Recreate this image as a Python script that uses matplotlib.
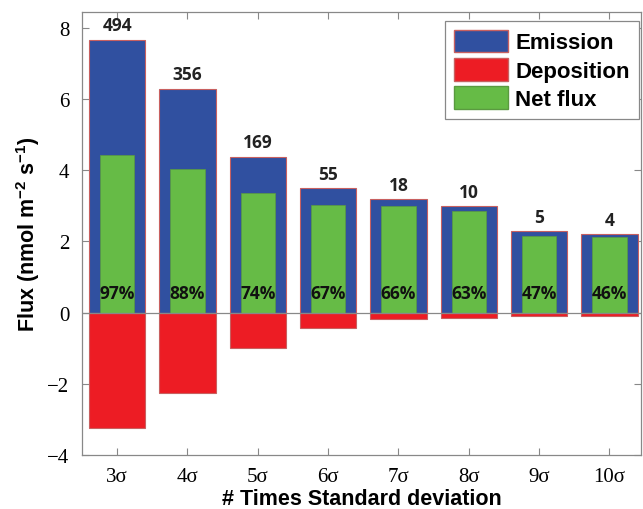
import numpy as np
import matplotlib.pyplot as plt
from matplotlib.patches import Patch

plt.rcParams['mathtext.fontset'] = 'custom'
plt.rcParams['mathtext.rm'] = 'Liberation Sans:bold'
plt.rcParams['mathtext.bf'] = 'Liberation Sans:bold'
plt.rcParams['mathtext.default'] = 'bf'

# flux partitioning vs detection threshold
thresholds = ['3σ', '4σ', '5σ', '6σ', '7σ', '8σ', '9σ', '10σ']
emission = [7.66, 6.28, 4.37, 3.49, 3.18, 2.99, 2.28, 2.20]
deposition = [-3.24, -2.27, -0.99, -0.43, -0.17, -0.14, -0.11, -0.10]
net_flux = [4.42, 4.02, 3.36, 3.03, 2.99, 2.85, 2.14, 2.11]
n_events = [494, 356, 169, 55, 18, 10, 5, 4]
net_pct = ['97%', '88%', '74%', '67%', '66%', '63%', '47%', '46%']

blue = '#3050a0'
red = '#ed1c24'
green = '#66bb46'
edge = '#c86060'

fig = plt.figure(figsize=(6.43, 5.10), dpi=100)
ax = fig.add_axes([0.1275, 0.106, 0.8695, 0.869])

x = np.arange(1, len(thresholds) + 1)
ax.bar(x, emission, width=0.8, color=blue, edgecolor=edge, linewidth=0.8, zorder=2)
ax.bar(x, deposition, width=0.8, color=red, edgecolor=edge, linewidth=0.8, zorder=2)
ax.bar(x, net_flux, width=0.49, color=green, edgecolor='#5a9a40', linewidth=0.5, zorder=3)
ax.axhline(0, color='#888888', linewidth=0.9, zorder=4)

for xi, e, n, p in zip(x, emission, n_events, net_pct):
    ax.annotate(str(n), (xi, e), xytext=(0, 4), textcoords='offset points',
                ha='center', va='bottom', fontsize=12.5, fontweight='bold',
                family='Open Sans', color='#222222')
    ax.text(xi, 0.56, p, ha='center', va='center', fontsize=12.5,
            fontweight='bold', family='Open Sans', color='#111111', zorder=5)

ax.set_xlim(0.5, 8.45)
ax.set_ylim(-4, 8.45)
ax.set_xticks(x)
ax.set_xticklabels(thresholds)
ax.set_yticks([-4, -2, 0, 2, 4, 6, 8])
ax.set_yticklabels(['\u22124', '\u22122', '0', '2', '4', '6', '8'])
for lbl in ax.get_xticklabels() + ax.get_yticklabels():
    lbl.set_family('Liberation Serif')
    lbl.set_fontsize(15)
ax.tick_params(direction='in', top=True, right=True, length=5, width=0.8,
               color='#888888', pad=9)
for s in ax.spines.values():
    s.set_color('#888888')
    s.set_linewidth(0.9)

ax.set_xlabel('# Times Standard deviation', fontsize=15.5, fontweight='bold',
              family='Liberation Sans', labelpad=1)
ax.set_ylabel('Flux (nmol m$^{-2}$ s$^{-1}$)', fontsize=15.5,
              fontweight='bold', family='Liberation Sans', labelpad=4)

handles = [Patch(facecolor=blue, edgecolor=edge, label='Emission'),
           Patch(facecolor=red, edgecolor=edge, label='Deposition'),
           Patch(facecolor=green, edgecolor='#5a9a40', label='Net flux')]
leg = ax.legend(handles=handles, loc='upper right', bbox_to_anchor=(0.996, 0.98),
                borderaxespad=0,
                prop={'family': 'Liberation Sans', 'weight': 'bold', 'size': 16},
                handlelength=2.4, handleheight=1.2, handletextpad=0.35,
                labelspacing=0.2, borderpad=0.4, fancybox=False,
                framealpha=1, edgecolor='#888888')
leg.get_frame().set_linewidth(0.9)

fig.savefig('out.png', dpi=100)
